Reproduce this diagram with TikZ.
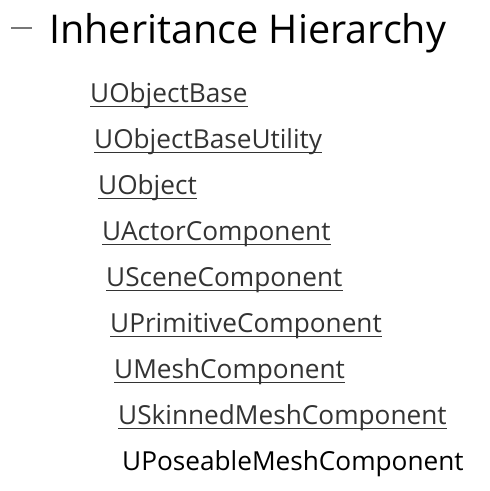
\documentclass[tikz,border=0pt]{standalone}
\usepackage{fontspec}
\setmainfont{Open Sans}
\usepackage{tikz}

\definecolor{linkgray}{HTML}{333333}
\definecolor{dashgray}{HTML}{777777}

\tikzset{
  heading/.style={anchor=base west, inner sep=0pt, font=\fontsize{39.6}{44}\selectfont},
  classname/.style={anchor=base west, inner sep=0pt, text=linkgray, font=\fontsize{26.2}{30}\selectfont},
  uline/.style={draw=linkgray, line width=1.6pt},
}

\begin{document}
\begin{tikzpicture}[x=1pt,y=-1pt]
\useasboundingbox (0,0) rectangle (490,491);

% heading
\draw[dashgray, line width=1.2pt] (11,28) -- (32,28);
\node[heading] (title) at (49,43) {Inheritance Hierarchy};

% class chain
\node[classname] (objbase) at (90,102) {UObjectBase};
\node[classname] (objutil) at (94,148) {UObjectBaseUtility};
\node[classname] (obj) at (98,194) {UObject};
\node[classname] (actor) at (102,240) {UActorComponent};
\node[classname] (scene) at (106,286) {USceneComponent};
\node[classname] (prim) at (110,332) {UPrimitiveComponent};
\node[classname] (mesh) at (114,378) {UMeshComponent};
\node[classname] (skinned) at (118,424) {USkinnedMeshComponent};
\node[classname, text=black] (poseable) at (122,470) {UPoseableMeshComponent};

% underlines
\foreach \n in {objbase,objutil,obj,actor,scene,prim,mesh,skinned}
  \draw[uline] ([yshift=-4.5pt]\n.base west) -- ([yshift=-4.5pt]\n.base east);
\end{tikzpicture}
\end{document}
